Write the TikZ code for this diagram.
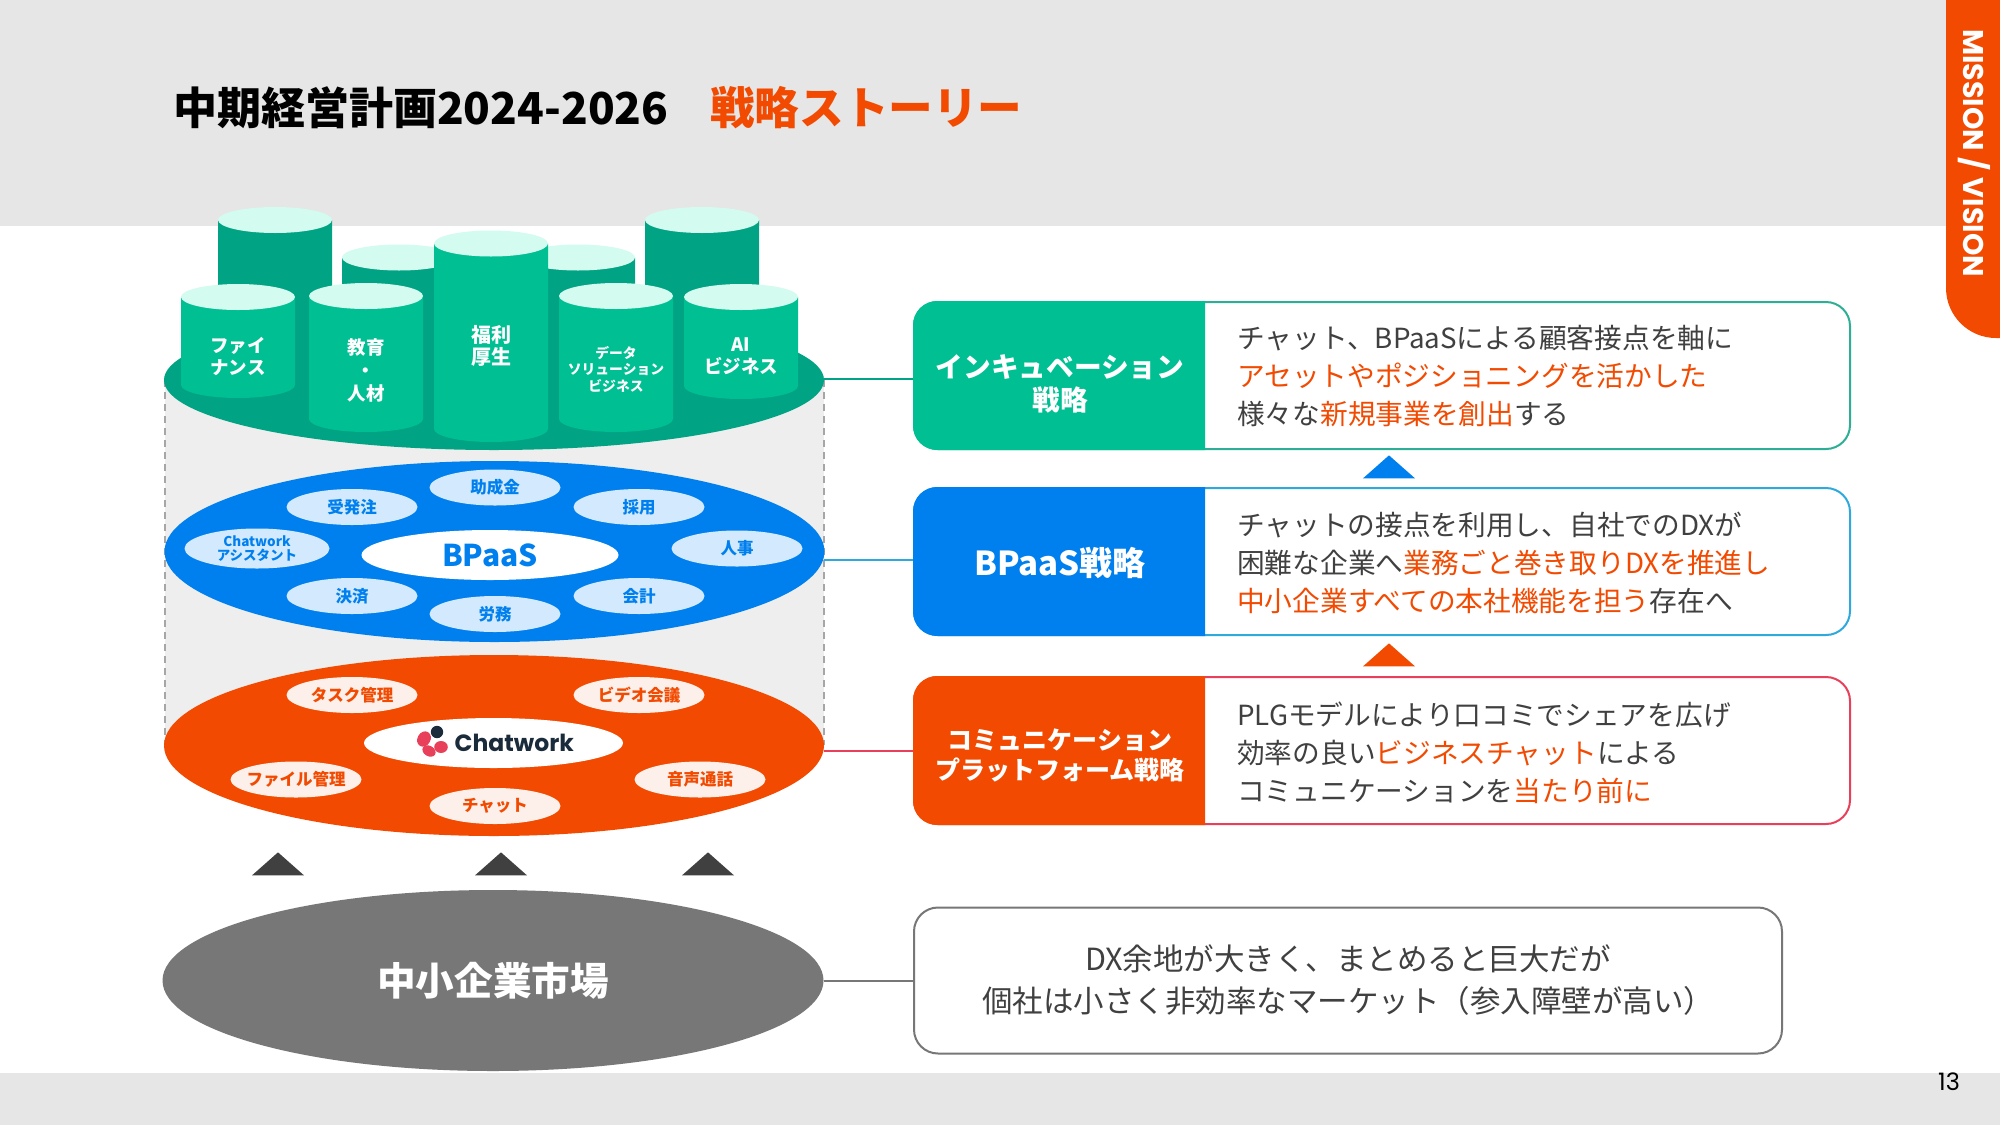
\documentclass[tikz,border=0pt]{standalone}
\usepackage{fontspec}
\usepackage{xcolor}
\usetikzlibrary{positioning,shapes.geometric}
\setmainfont{Noto Sans CJK JP}
\newfontfamily\poppins{Poppins}
\definecolor{bandgray}{RGB}{230,230,230}
\definecolor{wellgray}{RGB}{238,238,238}
\definecolor{newgreen}{RGB}{0,191,147}
\definecolor{deepgreen}{RGB}{0,163,131}
\definecolor{palegreen}{RGB}{211,251,240}
\definecolor{newblue}{RGB}{0,128,238}
\definecolor{paleblue}{RGB}{211,233,254}
\definecolor{neworange}{RGB}{242,74,0}
\definecolor{paleorange}{RGB}{253,240,234}
\definecolor{marketgray}{RGB}{119,119,119}
\definecolor{bodytext}{RGB}{64,64,64}
\definecolor{lineblue}{RGB}{47,168,220}
\definecolor{linered}{RGB}{232,64,90}
\definecolor{linegreen}{RGB}{47,174,150}
\definecolor{logonavy}{RGB}{26,43,60}
\newcommand{\hl}[1]{\textcolor{neworange}{#1}}
\newcommand{\fs}[2]{\fontsize{#1}{#2}\selectfont}
% cx, top centre y, lowest y, body colour
\newcommand{\drum}[4]{
    \fill[#4] (#1-57,#2) -- (#1-57,#3-13) arc (180:360:57pt and 13pt) -- (#1+57,#2) -- cycle;
    \fill[palegreen] (#1,#2) ellipse (57pt and 13pt);
}
\tikzset{
    plate/.style={ellipse,inner sep=0pt,minimum width=660pt,minimum height=181pt},
    chip/.style={ellipse,inner sep=-12pt,minimum width=131pt,minimum height=36pt,font=\bfseries\fs{16.5}{18}},
    bluechip/.style={chip,fill=paleblue,text=newblue},
    orangechip/.style={chip,fill=paleorange,text=neworange},
    drumtext/.style={text=white,font=\bfseries\fs{18.5}{22},inner sep=0pt,align=center},
    framebox/.style={draw,line width=2pt,fill=white,rounded corners=24pt,minimum width=936pt,minimum height=147pt,inner sep=0pt},
    bodybox/.style={text=bodytext,font=\fs{27.7}{38},align=left,inner sep=0pt,anchor=west},
    headbox/.style={text=white,font=\bfseries,align=center,inner sep=0pt},
    tieline/.style={line width=2pt},
    wedge/.style={isosceles triangle,isosceles triangle apex angle=97,shape border rotate=90,inner sep=0pt,minimum height=23pt,minimum width=51pt}
}
\begin{document}
\begin{tikzpicture}[x=1pt,y=-1pt]
    \useasboundingbox (0,0) rectangle (2000,1125);
    \fill[white] (0,0) rectangle (2000,1125);
    \fill[bandgray] (0,0) rectangle (2000,226);
    \fill[bandgray] (0,1073) rectangle (2000,1125);

    % tab and title
    \fill[neworange,rounded corners=50pt] (1946,-60) -- (1946,338) -- (2060,338) -- (2060,-60) -- cycle;
    \node[rotate=-90,text=white,inner sep=0pt,font=\poppins\bfseries\fs{28.5}{32}] (tab) at (1974,153) {MISSION\hspace{7pt}/\hspace{7pt}VISION};
    \node[anchor=west,inner sep=0pt,font=\bfseries\fs{44}{50}] (title) at (173,108) {中期経営計画2024-2026};
    \node[anchor=west,inner sep=0pt,text=neworange,font=\bfseries\fs{44.6}{50}] (titleb) at (710,108) {戦略ストーリー};
    \node[inner sep=0pt,text=black,font=\poppins\fs{24}{26}] (pageno) at (1949,1082) {13};

    % well behind the plates
    \fill[wellgray] (165,380) rectangle (824,745);
    \draw[gray!70,line width=1.5pt,dash pattern=on 7pt off 5pt] (165,380) -- (165,745);
    \draw[gray!70,line width=1.5pt,dash pattern=on 7pt off 5pt] (824,380) -- (824,745);

    % top plate
    \node[plate,fill=deepgreen,minimum height=140pt] (greenplate) at (494,380) {};
    \drum{275}{220}{360}{deepgreen}
    \drum{702}{220}{360}{deepgreen}
    \drum{399}{257.5}{360}{deepgreen}
    \drum{578}{257.5}{360}{deepgreen}
    \drum{491}{243.5}{442}{newgreen}
    \drum{238}{297}{398}{newgreen}
    \drum{366}{296}{432}{newgreen}
    \drum{616}{296}{432}{newgreen}
    \drum{741}{297}{399}{newgreen}
    \node[drumtext] (fin) at (238,356) {ファイ\\ナンス};
    \node[drumtext] (edu) at (366,370) {教育\\[1pt]・\\[1pt]人材};
    \node[drumtext,font=\bfseries\fs{20}{22}] (welfare) at (491,345.5) {福利\\厚生};
    \node[drumtext,font=\bfseries\fs{13.8}{16.5}] (data) at (616,369) {データ\\ソリューション\\ビジネス};
    \node[drumtext] (aibiz) at (741,356) {AI\\ビジネス};

    % middle plate
    \node[plate,fill=newblue] (blueplate) at (494.5,551.5) {};
    \foreach \nm/\x/\y/\lab in {a/495/487.5/助成金,b/352/507/受発注,c/639/507/採用,d/737/548.5/人事,e/352/596/決済,f/639/596/会計,g/495/614/労務}
        \node[bluechip] (blue\nm) at (\x,\y) {\lab};
    \node[bluechip,minimum width=145pt,minimum height=40pt,align=center,font=\bfseries\fs{13.5}{13.5}] (bluecw) at (257,548.5) {Chatwork\\アシスタント};
    \node[ellipse,inner sep=0pt,minimum width=257pt,minimum height=50pt,fill=white,text=newblue,font=\bfseries\fs{30}{32}] (bpaas) at (490,555) {BPaaS};

    % bottom plate
    \node[plate,fill=neworange] (orangeplate) at (494,745.5) {};
    \foreach \nm/\x/\y/\lab in {a/352/695/タスク管理,b/639/695/ビデオ会議,c/296/779.5/ファイル管理,d/700/779.5/音声通話,e/495/806/チャット}
        \node[orangechip] (orange\nm) at (\x,\y) {\lab};
    \node[ellipse,inner sep=0pt,minimum width=259pt,minimum height=50pt,fill=white] (cwpill) at (493.5,743) {};
    \node[anchor=west,inner sep=0pt,text=logonavy,font=\poppins\bfseries\fs{23.5}{28}] (cwname) at (454.5,742.5) {Chatwork};
    \fill[linered,rotate around={60:(424,739)}] (424,739) ellipse (8pt and 6.5pt);
    \fill[linered] (441,747) ellipse (6.8pt and 6pt);
    \fill[linered,rotate around={-30:(429,751)}] (429,751) ellipse (7pt and 5.2pt);
    \fill[logonavy] (437,732) circle (6.2pt);

    % triangles over the market
    \node[wedge,fill=bodytext] (upa) at (278,865.5) {};
    \node[wedge,fill=bodytext] (upb) at (501,865.5) {};
    \node[wedge,fill=bodytext] (upc) at (708,865.5) {};
    \node[ellipse,inner sep=0pt,minimum width=661pt,minimum height=181pt,fill=marketgray,text=white,font=\bfseries\fs{38.6}{42}] (market) at (493,980.5) {中小企業市場};

    % strategy rows
    \node[framebox,draw=linegreen] (rowa) at (1382,375.5) {};
    \node[framebox,draw=lineblue] (rowb) at (1382,561.5) {};
    \node[framebox,draw=linered] (rowc) at (1382,750.5) {};
    \fill[newgreen,rounded corners=24pt] (1205,301) -- (913,301) -- (913,450) -- (1205,450);
    \fill[newblue,rounded corners=24pt] (1205,487) -- (913,487) -- (913,636) -- (1205,636);
    \fill[neworange,rounded corners=24pt] (1205,676) -- (913,676) -- (913,825) -- (1205,825);
    \node[headbox,font=\bfseries\fs{27.7}{33}] (heada) at (1060,384) {インキュベーション\\戦略};
    \node[headbox,font=\bfseries\fs{33}{36}] (headb) at (1060,563) {BPaaS戦略};
    \node[headbox,font=\bfseries\fs{25}{30}] (headc) at (1060,755.5) {コミュニケーション\\プラットフォーム戦略};
    \node[bodybox] (texta) at (1237,376) {チャット、BPaaSによる顧客接点を軸に\\\hl{アセットやポジショニングを活かした}\\様々な\hl{新規事業を創出}する};
    \node[bodybox] (textb) at (1237,563) {チャットの接点を利用し、自社でのDXが\\困難な企業へ\hl{業務ごと巻き取りDXを推進し}\\\hl{中小企業すべての本社機能を担う}存在へ};
    \node[bodybox] (textc) at (1237,753) {PLGモデルにより口コミでシェアを広げ\\効率の良い\hl{ビジネスチャット}による\\コミュニケーションを\hl{当たり前に}};
    \node[wedge,fill=newblue] (upblue) at (1389,468.5) {};
    \node[wedge,fill=neworange] (uporange) at (1389,656.5) {};

    % market note
    \node[draw=marketgray,line width=2pt,fill=white,rounded corners=24pt,minimum width=868pt,minimum height=146pt,inner sep=0pt,text=bodytext,align=center,font=\fs{30.5}{42}] (note) at (1348,980.5) {DX余地が大きく、まとめると巨大だが\\個社は小さく非効率なマーケット（参入障壁が高い）};

    % ties
    \draw[tieline,line width=2.5pt,deepgreen] (824,379) -- (rowa.west |- 824,379);
    \draw[tieline,lineblue] (824,560) -- (rowb.west |- 824,560);
    \draw[tieline,linered] (824,751) -- (rowc.west |- 824,751);
    \draw[tieline,marketgray] (market.east) -- (note.west);
\end{tikzpicture}
\end{document}
